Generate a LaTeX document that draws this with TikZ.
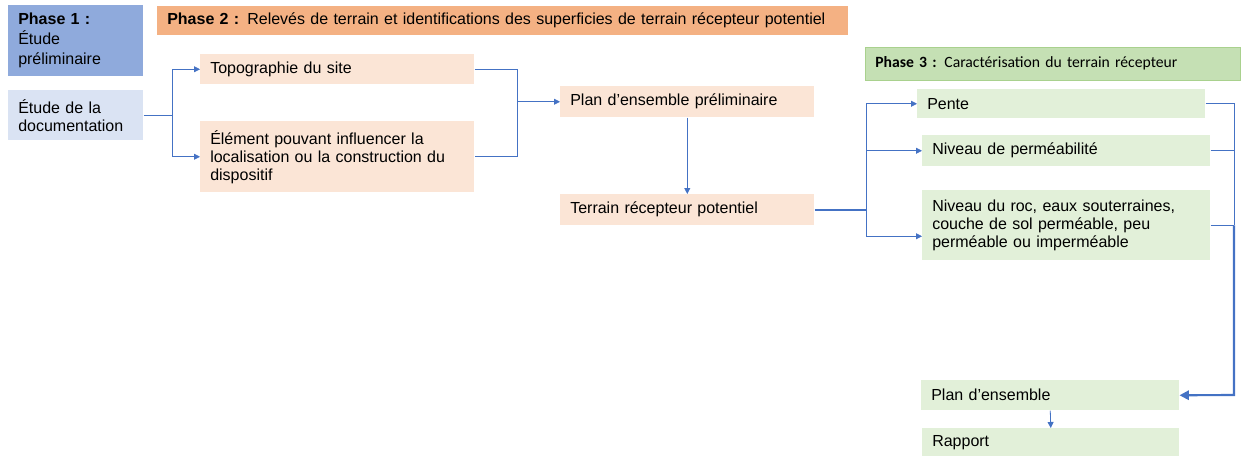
\documentclass[tikz,border=0pt]{standalone}
\usepackage{fontspec}
\setmainfont{Liberation Sans}
\newfontfamily\carlito{Carlito}
\usetikzlibrary{positioning, arrows.meta}

\definecolor{phaseun}{HTML}{8FAADC}
\definecolor{bleupale}{HTML}{DAE3F3}
\definecolor{phasedeux}{HTML}{F4B183}
\definecolor{peche}{HTML}{FBE5D6}
\definecolor{phasetrois}{HTML}{C5E0B4}
\definecolor{vertbord}{HTML}{A9D18E}
\definecolor{vertpale}{HTML}{E2F0D9}
\definecolor{lienbleu}{HTML}{4472C4}

\tikzset{
  boite/.style={anchor=north west, align=left, inner xsep=7.5pt, inner ysep=2pt,
    font=\fontsize{12}{13.5}\selectfont},
  lien/.style={draw=lienbleu, line width=0.6pt},
  fleche/.style={lien, -{Triangle[length=4.5pt,width=4.5pt]}},
  grosfleche/.style={draw=lienbleu, line width=1.6pt, -{Triangle[length=7pt,width=7pt]}}
}

\begin{document}
\begin{tikzpicture}[x=0.75pt,y=-0.75pt]
\useasboundingbox (0,0) rectangle (1241,456);

% phase 1
\node[boite, fill=phaseun, text width=86.25pt, minimum height=53.25pt,
  font=\fontsize{12}{15}\selectfont] (phase1) at (8,5)
  {\textbf{Phase 1 :}\\ Étude\\ préliminaire};
\node[boite, fill=bleupale, text width=86.25pt, minimum height=37.5pt] (doc) at (8,90)
  {Étude de la\\ documentation};

% phase 2
\node[boite, fill=phasedeux, text width=503.25pt, minimum height=21.75pt] (phase2) at (157,6)
  {\textbf{Phase 2 :} Relevés de terrain et identifications des superficies de terrain récepteur potentiel};
\node[boite, fill=peche, text width=190.5pt, minimum height=22.5pt] (topo) at (200,54)
  {Topographie du site};
\node[boite, fill=peche, text width=190.5pt, minimum height=53.25pt] (elem) at (200,121)
  {Élément pouvant influencer la\\ localisation ou la construction du\\ dispositif};
\node[boite, fill=peche, text width=175.5pt, minimum height=23.25pt] (plan) at (560,86)
  {Plan d’ensemble préliminaire};
\node[boite, fill=peche, text width=175.5pt, minimum height=23.25pt] (terrain) at (560,194)
  {Terrain récepteur potentiel};

% phase 3
\node[boite, fill=phasetrois, draw=vertbord, line width=0.4pt, text width=266.25pt, minimum height=24.75pt,
  font=\carlito\fontsize{11.75}{13}\selectfont] (phase3) at (865,47)
  {\textbf{Phase 3 :} Caractérisation du terrain récepteur};
\node[boite, fill=vertpale, text width=201pt, minimum height=21.75pt] (pente) at (917,89)
  {Pente};
\node[boite, fill=vertpale, text width=201pt, minimum height=23.25pt] (perm) at (922,135)
  {Niveau de perméabilité};
\node[boite, fill=vertpale, text width=201pt, minimum height=52.5pt] (roc) at (922,190)
  {Niveau du roc, eaux souterraines,\\ couche de sol perméable, peu\\ perméable ou imperméable};
\node[boite, fill=vertpale, text width=178.5pt, minimum height=22.5pt] (ens) at (921,380)
  {Plan d’ensemble};
\node[boite, fill=vertpale, text width=177.75pt, minimum height=21pt] (rapport) at (922,428)
  {Rapport};

% liens
\coordinate (j2) at (517,0);
\coordinate (j4) at (1234,395);

\draw[lien] (doc.east) -- ++(29,0) coordinate (j1);
\draw[fleche] (j1) |- (topo.west);
\draw[fleche] (j1) |- (elem.west);

\draw[lien] (topo.east) -| (j2 |- elem.east) -- (elem.east);
\draw[fleche] (j2 |- plan.west) -- (plan.west);

\draw[fleche] (plan.south) -- (terrain.north);

\draw[lien, line width=1.1pt] (terrain.east) -- ++(52,0) coordinate (j3);
\draw[fleche] (j3) |- (pente.west);
\draw[fleche] (j3) |- (perm.west);
\draw[fleche] (j3) |- ([yshift=-8.25pt]roc.west);

\draw[lien] (pente.east) -| (j4 |- roc.east);
\draw[lien] (perm.east) -- (perm.east -| j4);
\draw[lien] (roc.east) -- (roc.east -| j4);
\draw[grosfleche] (j4 |- roc.east) -- (j4) -- (ens.east);

\draw[fleche] (ens.south) -- (rapport.north);
\end{tikzpicture}
\end{document}
